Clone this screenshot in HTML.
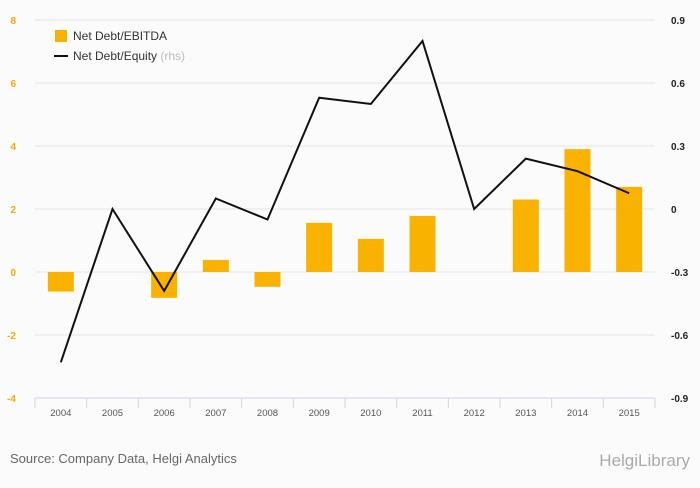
<!DOCTYPE html>
<html><head><meta charset="utf-8"><style>
body{margin:0;background:#fbfbfb;font-family:"Liberation Sans",sans-serif}
svg text{font-family:"Liberation Sans",sans-serif}
</style></head><body>
<svg id="c" width="700" height="483" xmlns="http://www.w3.org/2000/svg"></svg>
<script>
const categories=["2004","2005","2006","2007","2008","2009","2010","2011","2012","2013","2014","2015"];
const debtEbitda=[-0.62,0,-0.82,0.38,-0.47,1.56,1.05,1.78,0,2.3,3.9,2.7];
const debtEquity=[-0.73,0,-0.39,0.05,-0.05,0.53,0.5,0.8,0,0.24,0.18,0.075];
const leftTicks=[-4,-2,0,2,4,6,8];
const rightTicks=["-0.9","-0.6","-0.3","0","0.3","0.6","0.9"];
const NS="http://www.w3.org/2000/svg";
const svg=document.getElementById('c');
const X0=35,X1=655,Y0=398,Y1=20;
const step=(X1-X0)/categories.length;
const xc=i=>X0+step*(i+0.5);
const yl=v=>Y0-(v+4)/12*(Y0-Y1);
const yr=v=>Y0-(v+0.9)/1.8*(Y0-Y1);
function mk(t,a,p){const e=document.createElementNS(NS,t);for(const k in a)e.setAttribute(k,a[k]);(p||svg).appendChild(e);return e;}
leftTicks.forEach((v,i)=>{
  const g=mk('line',{x1:X0,x2:X1,y1:yl(v),y2:yl(v),stroke:'#e6e6e6'});
  
  
  const t=mk('text',{x:16,y:yl(v)+4,'font-size':10,'font-weight':'bold',fill:'#f5a800','text-anchor':'end'});t.textContent=v;
  
  
  const r=mk('text',{x:671,y:yl(v)+4,'font-size':10,'font-weight':'bold',fill:'#222','text-anchor':'start'});r.textContent=rightTicks[i];
  
  
});
mk('line',{x1:X0,x2:X1,y1:Y0,y2:Y0,stroke:'#ccd6eb'});
for(let i=0;i<=categories.length;i++){mk('line',{x1:X0+step*i,x2:X0+step*i,y1:Y0,y2:Y0+10,stroke:'#ccd6eb'});}
categories.forEach((c,i)=>{
  const t=mk('text',{x:xc(i),y:416,'font-size':9.5,fill:'#555','text-anchor':'middle'});t.textContent=c;
  
  
  const v=debtEbitda[i],y=Math.min(yl(v),yl(0)),h=Math.abs(yl(v)-yl(0));
  const b=mk('rect',{x:xc(i)-13,y:y,width:26,height:h,fill:'#f9b200'});
  
  
});
const pl=mk('polyline',{points:debtEquity.map((v,i)=>xc(i)+','+yr(v)).join(' '),fill:'none',stroke:'#111','stroke-width':2});


const lg=mk('g',{});


mk('rect',{x:55,y:30,width:12,height:12,fill:'#f9b200'},lg);
let t=mk('text',{x:73,y:40,'font-size':12,fill:'#333'},lg);t.textContent='Net Debt/EBITDA';
mk('line',{x1:54,x2:68,y1:56,y2:56,stroke:'#111','stroke-width':2},lg);
t=mk('text',{x:73,y:60,'font-size':12,fill:'#333'},lg);t.innerHTML='Net Debt/Equity <tspan fill="#bbb">(rhs)</tspan>';
t=mk('text',{x:10,y:463,'font-size':13,fill:'#666'});t.textContent='Source: Company Data, Helgi Analytics';


t=mk('text',{x:690,y:466,'font-size':17,fill:'#aaa','text-anchor':'end','font-family':'Liberation Serif, serif'});t.textContent='HelgiLibrary';


</script>
</body></html>
